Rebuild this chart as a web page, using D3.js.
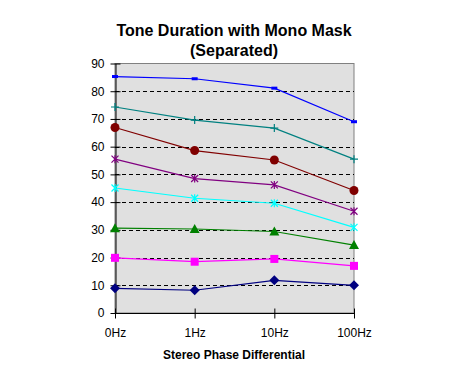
<!DOCTYPE html>
<html><head><meta charset="utf-8">
<script src="https://cdn.jsdelivr.net/npm/d3@7"></script>
<style>body{margin:0;background:#fff;}svg{display:block;font-family:Arial,"Liberation Sans",sans-serif;}</style>
</head><body>
<svg id="c" width="461" height="373"></svg>
<script>
const categories = ["0Hz", "1Hz", "10Hz", "100Hz"];
const yTicks = [0, 10, 20, 30, 40, 50, 60, 70, 80, 90];
const sBlue    = [85.3, 84.5, 81.1, 69.0];
const sTeal    = [74.3, 69.6, 66.7, 55.5];
const sDarkRed = [66.9, 58.6, 55.2, 44.2];
const sPurple  = [55.5, 48.5, 46.2, 36.7];
const sCyan    = [45.1, 41.4, 39.6, 30.9];
const sGreen   = [30.6, 30.3, 29.4, 24.5];
const sMagenta = [19.9, 18.5, 19.5, 17.0];
const sNavy    = [8.9, 8.2, 11.8, 10.0];

const series = [
  {v: sBlue, color: "#0000FF", marker: "dash"},
  {v: sTeal, color: "#008080", marker: "plus"},
  {v: sDarkRed, color: "#800000", marker: "circle"},
  {v: sPurple, color: "#800080", marker: "star"},
  {v: sCyan, color: "#00FFFF", marker: "star"},
  {v: sGreen, color: "#008000", marker: "triangle"},
  {v: sMagenta, color: "#FF00FF", marker: "square"},
  {v: sNavy, color: "#000080", marker: "diamond"}
];

const svg = d3.select("#c");
const L = 115, R = 354, T = 63.5, B = 313;
const x = d3.scalePoint().domain(categories).range([L, R]);
const y = d3.scaleLinear().domain([0, 90]).range([B, T]);

svg.append("rect").attr("x", L).attr("y", T).attr("width", R - L).attr("height", B - T)
  .attr("fill", "#E0E0E0").attr("stroke", "#808080").attr("stroke-width", 1);

// gridlines
svg.append("g").selectAll("line").data(yTicks.filter(d => d > 0 && d < 90)).join("line")
  .attr("x1", L).attr("x2", R)
  .attr("y1", d => Math.round(y(d)) + 0.5).attr("y2", d => Math.round(y(d)) + 0.5)
  .attr("stroke", "#000").attr("stroke-dasharray", "4,3").attr("stroke-width", 1);

// axes
const yAxis = d3.axisLeft(y).tickValues(yTicks).tickSize(5).tickSizeOuter(0).tickPadding(6);
const gy = svg.append("g").attr("transform", `translate(${L + 0.5},0)`).call(yAxis);
gy.selectAll("text").attr("font-size", 12).attr("font-family", "Arial, 'Liberation Sans', sans-serif").attr("fill", "#000");
gy.selectAll("line,path").attr("stroke", "#000");
gy.selectAll(".tick line").attr("x2", 5).attr("x1", -5);

const xAxis = d3.axisBottom(x).tickSize(5).tickSizeOuter(0).tickPadding(10);
const gx = svg.append("g").attr("transform", `translate(0,${B + 0.5})`).call(xAxis);
gx.select(".domain").attr("d", `M${L},0H${R}`);
gx.selectAll("text").attr("font-size", 12).attr("font-family", "Arial, 'Liberation Sans', sans-serif").attr("fill", "#000");
gx.selectAll("line,path").attr("stroke", "#000");
gx.selectAll(".tick line").attr("y1", -5).attr("y2", 5);

// lines
const line = d3.line().x((d, i) => x(categories[i])).y(d => y(d));
series.forEach(s => {
  svg.append("path").datum(s.v).attr("d", line).attr("fill", "none")
    .attr("stroke", s.color).attr("stroke-width", 1.2);
});

// markers
series.forEach(s => {
  const g = svg.append("g");
  s.v.forEach((v, i) => {
    const cx = x(categories[i]), cy = y(v);
    const c = s.color;
    if (s.marker === "dash") {
      g.append("rect").attr("x", cx - 3).attr("y", cy - 1.5).attr("width", 6).attr("height", 3).attr("fill", c);
    } else if (s.marker === "plus") {
      g.append("path").attr("d", `M${cx - 4},${cy}H${cx + 4}M${cx},${cy - 4}V${cy + 4}`).attr("stroke", c).attr("stroke-width", 1.2);
    } else if (s.marker === "circle") {
      g.append("circle").attr("cx", cx).attr("cy", cy).attr("r", 4.5).attr("fill", c);
    } else if (s.marker === "star") {
      g.append("path").attr("d", `M${cx - 3.5},${cy - 3.5}L${cx + 3.5},${cy + 3.5}M${cx - 3.5},${cy + 3.5}L${cx + 3.5},${cy - 3.5}M${cx},${cy - 4}V${cy + 4}`).attr("stroke", c).attr("stroke-width", 1.2);
    } else if (s.marker === "triangle") {
      g.append("path").attr("d", `M${cx},${cy - 5}L${cx + 5},${cy + 4}L${cx - 5},${cy + 4}Z`).attr("fill", c);
    } else if (s.marker === "square") {
      g.append("rect").attr("x", cx - 4).attr("y", cy - 4).attr("width", 8).attr("height", 8).attr("fill", c);
    } else if (s.marker === "diamond") {
      g.append("path").attr("d", `M${cx},${cy - 5}L${cx + 5},${cy}L${cx},${cy + 5}L${cx - 5},${cy}Z`).attr("fill", c);
    }
  });
});

// titles
svg.append("text").attr("x", 234).attr("y", 36).attr("text-anchor", "middle")
  .attr("font-size", 16).attr("font-weight", "bold").text("Tone Duration with Mono Mask");
svg.append("text").attr("x", 234).attr("y", 56).attr("text-anchor", "middle")
  .attr("font-size", 16).attr("font-weight", "bold").text("(Separated)");
svg.append("text").attr("x", 234).attr("y", 359).attr("text-anchor", "middle")
  .attr("font-size", 12).attr("font-weight", "bold").text("Stereo Phase Differential");
</script>
</body></html>
